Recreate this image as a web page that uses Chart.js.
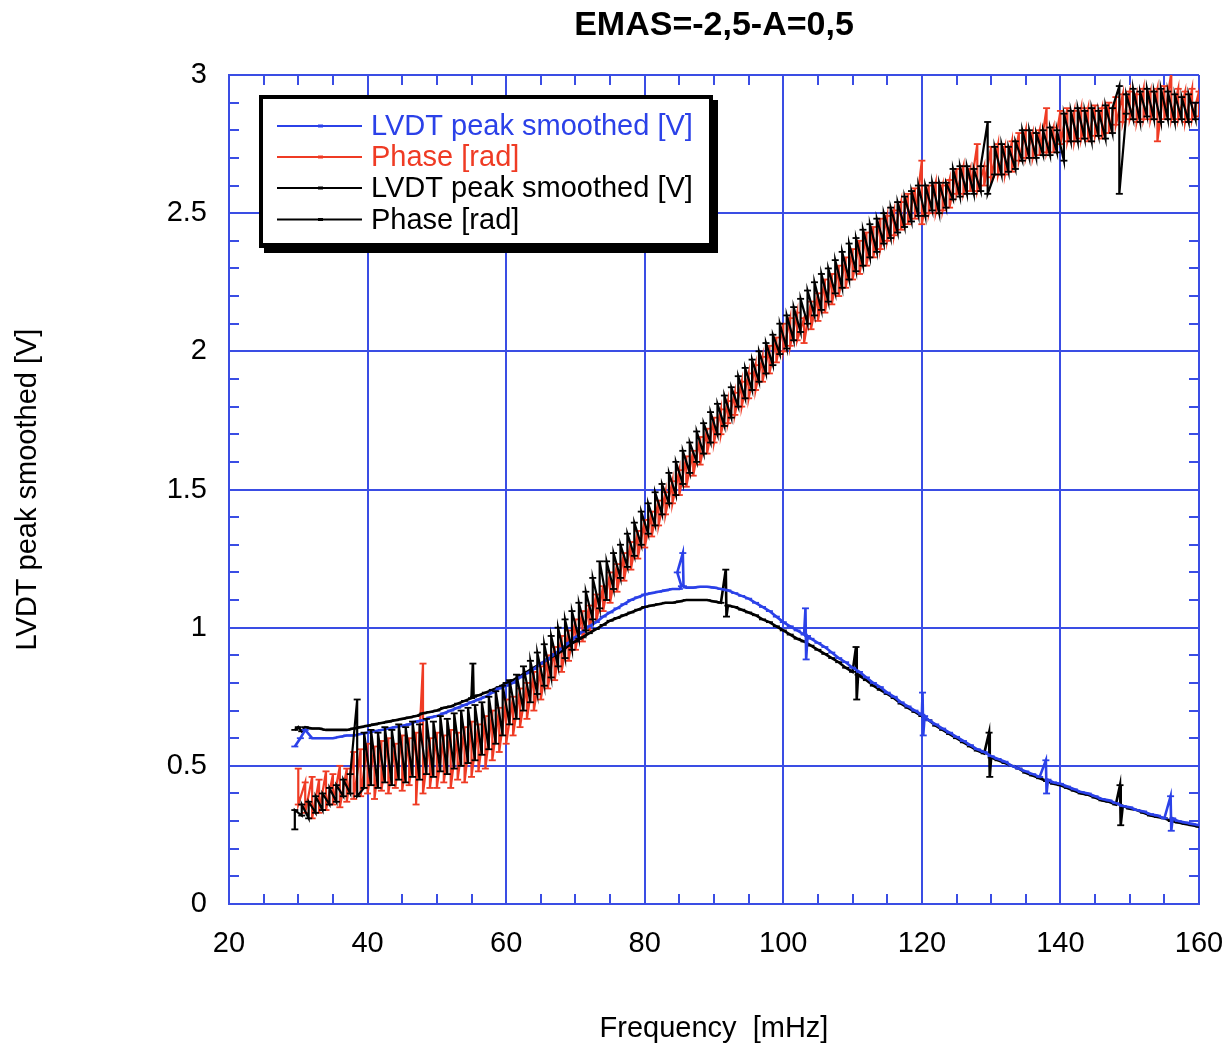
<!DOCTYPE html>
<html><head><meta charset="utf-8">
<script src="https://cdn.jsdelivr.net/npm/chart.js@4.4.1/dist/chart.umd.min.js"></script>
<style>html,body{margin:0;padding:0;background:#fff;}#wrap{width:1231px;height:1045px;}</style>
</head><body><div id="wrap"><canvas id="c" width="1231" height="1045"></canvas></div>
<script>
const chartTitle = 'EMAS=-2,5-A=0,5';
const xTitle = 'Frequency  [mHz]';
const yTitle = 'LVDT peak smoothed [V]';
const legendLabels = ['LVDT peak smoothed [V]', 'Phase [rad]', 'LVDT peak smoothed [V]', 'Phase [rad]'];
const xTickLabels = ['20','40','60','80','100','120','140','160'];
const yTickLabels = ['0','0.5','1','1.5','2','2.5','3'];

const ampBlueX = [29.5,30.3,31,32,33,34,35,36,37,38,
  39,40,41,42,43,44,45,46,47,48,
  49,50,51,52,53,54,55,56,57,58,
  59,60,61,62,63,64,65,66,67,68,
  69,70,71,72,73,74,75,76,77,78,
  79,80,81,82,83,84,85,85.3,84.7,85.5,
  85.6,86,87,88,89,90,91,92,93,94,
  95,96,97,98,99,100,101,102,103,103.2,
  103.3,103.5,104,105,106,107,108,109,110,111,
  112,113,114,115,116,117,118,119,120,120.1,
  120.2,120.4,121,122,123,124,125,126,127,128,
  129,130,131,132,133,134,135,136,137,137.9,
  138,138.2,139,140,141,142,143,144,145,146,
  147,148,149,150,151,152,153,154,155,155.9,
  156,156.2,157,158,159,160];
const ampBlueY = [0.57,0.60,0.63,0.60,0.60,0.60,0.60,0.605,0.61,0.61,
  0.615,0.62,0.625,0.63,0.635,0.64,0.645,0.65,0.66,0.665,
  0.675,0.68,0.69,0.70,0.71,0.72,0.73,0.74,0.75,0.765,
  0.78,0.79,0.80,0.82,0.835,0.85,0.87,0.885,0.905,0.925,
  0.945,0.965,0.985,1.005,1.02,1.04,1.055,1.07,1.085,1.10,
  1.11,1.12,1.125,1.13,1.135,1.14,1.14,1.15,1.20,1.27,
  1.15,1.145,1.145,1.148,1.148,1.145,1.14,1.135,1.125,1.115,
  1.105,1.09,1.075,1.06,1.04,1.02,1.005,0.99,0.975,1.07,
  0.885,0.97,0.96,0.945,0.93,0.91,0.89,0.875,0.855,0.84,
  0.82,0.80,0.785,0.765,0.75,0.73,0.715,0.70,0.685,0.765,
  0.61,0.68,0.665,0.65,0.635,0.62,0.605,0.59,0.575,0.56,
  0.55,0.535,0.525,0.515,0.50,0.49,0.48,0.47,0.46,0.52,
  0.40,0.45,0.44,0.435,0.425,0.415,0.405,0.40,0.39,0.38,
  0.375,0.365,0.355,0.35,0.34,0.335,0.325,0.32,0.31,0.39,
  0.265,0.31,0.30,0.295,0.29,0.285];

const ampBlackX = [29.5,30,30.5,31,32,33,34,35,36,37,
  38,39,40,41,42,43,44,45,46,47,
  48,49,50,51,52,53,54,55,55.2,55.3,
  56,57,58,59,60,61,62,63,64,65,
  66,67,68,69,70,71,72,73,74,75,
  76,77,78,79,80,81,82,83,84,85,
  86,87,88,89,90,91,91.7,91.8,92,93,
  94,95,96,97,98,99,100,101,102,103,
  104,105,106,107,108,109,110,110.5,110.6,110.8,
  111,112,113,114,115,116,117,118,119,120,
  121,122,123,124,125,126,127,128,129,129.7,
  129.8,130,131,132,133,134,135,136,137,138,
  139,140,141,142,143,144,145,146,147,148,
  148.6,148.7,149,150,151,152,153,154,155,156,
  157,158,159,160];
const ampBlackY = [0.63,0.64,0.625,0.64,0.635,0.635,0.63,0.63,0.63,0.63,
  0.635,0.64,0.645,0.65,0.655,0.66,0.665,0.67,0.675,0.68,
  0.69,0.695,0.70,0.71,0.715,0.725,0.735,0.745,0.87,0.75,
  0.755,0.765,0.775,0.785,0.80,0.81,0.825,0.84,0.855,0.87,
  0.885,0.90,0.915,0.935,0.95,0.965,0.98,0.995,1.01,1.025,
  1.035,1.045,1.055,1.065,1.075,1.08,1.085,1.09,1.09,1.095,
  1.10,1.10,1.10,1.10,1.095,1.09,1.21,1.04,1.08,1.075,
  1.065,1.055,1.045,1.03,1.02,1.005,0.99,0.975,0.96,0.95,
  0.935,0.92,0.905,0.89,0.875,0.855,0.84,0.93,0.74,0.83,
  0.825,0.81,0.79,0.775,0.76,0.745,0.725,0.71,0.695,0.68,
  0.665,0.645,0.63,0.615,0.60,0.585,0.57,0.555,0.545,0.62,
  0.46,0.53,0.52,0.51,0.50,0.49,0.475,0.465,0.455,0.445,
  0.435,0.43,0.42,0.41,0.40,0.395,0.385,0.375,0.37,0.36,
  0.43,0.285,0.355,0.345,0.34,0.33,0.32,0.315,0.31,0.30,
  0.295,0.29,0.285,0.28];

// phase: two readings per frequency (first, second)
const phaseRedX = [30,31,32,33,34,35,36,37,38,39,
  40,41,42,43,44,45,46,47,48,49,
  50,51,52,53,54,55,56,57,58,59,
  60,61,62,63,64,65,66,67,68,69,
  70,71,72,73,74,75,76,77,78,79,
  80,81,82,83,84,85,86,87,88,89,
  90,91,92,93,94,95,96,97,98,99,
  100,101,102,103,104,105,106,107,108,109,
  110,111,112,113,114,115,116,117,118,119,
  120,121,122,123,124,125,126,127,128,129,
  130,131,132,133,134,135,136,137,138,139,
  140,141,142,143,144,145,146,147,148,149,
  150,151,152,153,154,155,156,157,158,159,160];
const phaseRedFirst = [0.49,0.44,0.46,0.45,0.48,0.47,0.50,0.49,0.55,0.56,
  0.58,0.57,0.59,0.60,0.58,0.61,0.60,0.62,0.87,0.60,
  0.62,0.61,0.63,0.62,0.64,0.66,0.65,0.68,0.70,0.71,
  0.74,0.75,0.78,0.80,0.84,0.86,0.90,0.93,0.97,0.99,
  1.03,1.06,1.08,1.12,1.15,1.20,1.23,1.27,1.31,1.35,
  1.39,1.42,1.46,1.49,1.53,1.57,1.62,1.64,1.69,1.72,
  1.76,1.79,1.82,1.85,1.89,1.92,1.95,1.98,2.02,2.05,
  2.10,2.12,2.14,2.12,2.18,2.21,2.26,2.28,2.31,2.34,
  2.37,2.40,2.43,2.45,2.48,2.49,2.51,2.54,2.57,2.59,
  2.69,2.60,2.61,2.60,2.62,2.66,2.67,2.66,2.75,2.67,
  2.74,2.75,2.74,2.76,2.79,2.80,2.79,2.80,2.88,2.81,
  2.87,2.88,2.87,2.88,2.88,2.89,2.88,2.90,2.92,2.93,
  2.94,2.93,2.95,2.94,2.95,2.96,3.01,2.95,2.94,2.95,2.94];
const phaseRedSecond = [0.36,0.33,0.31,0.33,0.34,0.36,0.35,0.37,0.38,0.39,
  0.40,0.38,0.41,0.40,0.42,0.41,0.43,0.36,0.40,0.42,
  0.42,0.44,0.42,0.45,0.44,0.46,0.48,0.49,0.52,0.55,
  0.58,0.61,0.64,0.67,0.70,0.74,0.78,0.81,0.84,0.88,
  0.92,0.95,0.99,1.02,1.06,1.09,1.13,1.17,1.21,1.25,
  1.29,1.33,1.37,1.41,1.45,1.48,1.51,1.55,1.59,1.63,
  1.67,1.70,1.74,1.77,1.80,1.83,1.86,1.89,1.92,1.96,
  2.00,2.02,2.04,2.03,2.08,2.11,2.14,2.17,2.20,2.23,
  2.26,2.28,2.31,2.34,2.37,2.40,2.42,2.44,2.46,2.48,
  2.46,2.50,2.50,2.51,2.52,2.57,2.57,2.58,2.58,2.60,
  2.63,2.64,2.64,2.65,2.69,2.70,2.70,2.71,2.72,2.72,
  2.75,2.76,2.76,2.77,2.76,2.78,2.77,2.79,2.82,2.83,
  2.84,2.83,2.84,2.84,2.76,2.84,2.84,2.84,2.83,2.84,2.85];

const phaseBlackX = [29.5,30.5,31.5,32.5,33.5,34.5,35.5,36.5,37.5,38.5,
  39.5,40.5,41.5,42.5,43.5,44.5,45.5,46.5,47.5,48.5,
  49.5,50.5,51.5,52.5,53.5,54.5,55.5,56.5,57.5,58.5,
  59.5,60.5,61.5,62.5,63.5,64.5,65.5,66.5,67.5,68.5,
  69.5,70.5,71.5,72.5,73.5,74.5,75.5,76.5,77.5,78.5,
  79.5,80.5,81.5,82.5,83.5,84.5,85.5,86.5,87.5,88.5,
  89.5,90.5,91.5,92.5,93.5,94.5,95.5,96.5,97.5,98.5,
  99.5,100.5,101.5,102.5,103.5,104.5,105.5,106.5,107.5,108.5,
  109.5,110.5,111.5,112.5,113.5,114.5,115.5,116.5,117.5,118.5,
  119.5,120.5,121.5,122.5,123.5,124.5,125.5,126.5,127.5,128.5,
  129.5,130.5,131.5,132.5,133.5,134.5,135.5,136.5,137.5,138.5,
  139.5,140.5,141.5,142.5,143.5,144.5,145.5,146.5,147.5,148.5,
  149.5,150.5,151.5,152.5,153.5,154.5,155.5,156.5,157.5,158.5,159.5];
const phaseBlackFirst = [0.27,0.32,0.31,0.33,0.34,0.36,0.37,0.39,0.40,0.74,
  0.42,0.43,0.42,0.44,0.43,0.45,0.44,0.46,0.45,0.47,
  0.46,0.48,0.47,0.49,0.50,0.51,0.52,0.54,0.56,0.58,
  0.61,0.65,0.67,0.70,0.73,0.76,0.79,0.82,0.86,0.89,
  0.92,0.96,0.99,1.03,1.07,1.10,1.14,1.18,1.22,1.26,
  1.30,1.34,1.37,1.41,1.45,1.48,1.52,1.56,1.60,1.63,
  1.67,1.70,1.73,1.76,1.80,1.83,1.86,1.89,1.92,1.95,
  1.99,2.01,2.04,2.07,2.10,2.13,2.15,2.18,2.21,2.23,
  2.26,2.29,2.31,2.34,2.36,2.39,2.41,2.43,2.45,2.47,
  2.49,2.49,2.51,2.50,2.52,2.55,2.56,2.57,2.57,2.58,
  2.83,2.64,2.64,2.65,2.66,2.69,2.70,2.70,2.71,2.71,
  2.72,2.69,2.76,2.76,2.77,2.76,2.78,2.77,2.79,2.96,
  2.86,2.84,2.83,2.85,2.84,2.83,2.84,2.83,2.84,2.83,2.84];
const phaseBlackSecond = [0.34,0.36,0.37,0.39,0.40,0.42,0.43,0.45,0.47,0.39,
  0.62,0.63,0.62,0.64,0.63,0.65,0.64,0.66,0.65,0.67,
  0.66,0.68,0.67,0.69,0.70,0.71,0.72,0.73,0.75,0.77,
  0.79,0.81,0.83,0.86,0.88,0.91,0.94,0.97,1.00,1.03,
  1.06,1.09,1.13,1.18,1.24,1.24,1.27,1.30,1.34,1.38,
  1.42,1.45,1.49,1.52,1.56,1.60,1.64,1.67,1.71,1.74,
  1.78,1.81,1.84,1.87,1.91,1.94,1.97,2.00,2.03,2.06,
  2.10,2.13,2.16,2.19,2.22,2.25,2.28,2.30,2.33,2.36,
  2.39,2.41,2.44,2.46,2.48,2.50,2.52,2.54,2.56,2.58,
  2.60,2.60,2.61,2.61,2.61,2.66,2.67,2.67,2.66,2.67,
  2.57,2.74,2.75,2.74,2.76,2.80,2.80,2.79,2.80,2.81,
  2.80,2.86,2.87,2.88,2.87,2.88,2.87,2.89,2.88,2.57,
  2.93,2.95,2.94,2.95,2.94,2.95,2.94,2.93,2.92,2.93,2.90];

const gridBlue = '#3a4de4';
const colBlue = '#2b41e8';
const colRed = '#ef3b24';
const colBlack = '#000000';
const FONT = "'Liberation Sans', Arial, Helvetica, sans-serif";

function pts(xs, ys) { return xs.map((x, i) => ({x: x, y: ys[i]})); }
function pairPts(xs, a, b) {
  const out = [];
  xs.forEach((x, i) => { out.push({x: x, y: a[i]}); out.push({x: x, y: b[i]}); });
  return out;
}
function ds(label, data, color, order, width) {
  return {label: label, data: data, showLine: true, borderColor: color, backgroundColor: color,
    borderWidth: width, pointStyle: 'line', pointRadius: 3.5, pointBorderWidth: 1.8,
    pointBorderColor: color, pointBackgroundColor: color, tension: 0, order: order};
}

const minorTicks = {
  id: 'minorTicks',
  beforeDatasetsDraw(chart) {
    const {ctx, chartArea: a, scales: {x, y}} = chart;
    ctx.save();
    ctx.strokeStyle = gridBlue; ctx.lineWidth = 2;
    ctx.beginPath();
    for (let v = 25; v < 160; v += 5) {
      if (v % 20 === 0) continue;
      const px = Math.round(x.getPixelForValue(v));
      ctx.moveTo(px, a.bottom); ctx.lineTo(px, a.bottom - 10);
      ctx.moveTo(px, a.top); ctx.lineTo(px, a.top + 10);
    }
    for (let k = 1; k < 30; k++) {
      if (k % 5 === 0) continue;
      const py = Math.round(y.getPixelForValue(k / 10));
      ctx.moveTo(a.left, py); ctx.lineTo(a.left + 10, py);
      ctx.moveTo(a.right, py); ctx.lineTo(a.right - 10, py);
    }
    ctx.stroke();
    ctx.restore();
  }
};

const boxLegend = {
  id: 'boxLegend',
  afterDraw(chart) {
    const ctx = chart.ctx;
    ctx.save();
    ctx.fillStyle = '#000';
    ctx.fillRect(264, 100, 454, 153);
    ctx.fillRect(259, 95, 454, 153);
    ctx.fillStyle = '#fff';
    ctx.fillRect(263, 99, 446, 144);
    const cols = [colBlue, colRed, colBlack, colBlack];
    const rows = [126, 157, 188, 219.5];
    ctx.font = '29px ' + FONT;
    ctx.textBaseline = 'middle';
    ctx.textAlign = 'left';
    for (let i = 0; i < 4; i++) {
      ctx.strokeStyle = cols[i]; ctx.lineWidth = 2;
      ctx.beginPath(); ctx.moveTo(277, rows[i]); ctx.lineTo(362, rows[i]); ctx.stroke();
      ctx.fillStyle = cols[i];
      ctx.fillRect(318, rows[i] - 1.5, 5, 3);
      ctx.fillText(legendLabels[i], 371, rows[i] + 1);
    }
    ctx.restore();
  }
};

new Chart(document.getElementById('c'), {
  type: 'scatter',
  data: {datasets: [
    ds(legendLabels[0], pts(ampBlueX, ampBlueY), colBlue, 1, 2.6),
    ds(legendLabels[1], pairPts(phaseRedX, phaseRedFirst, phaseRedSecond), colRed, 3, 2.2),
    ds(legendLabels[2], pts(ampBlackX, ampBlackY), colBlack, 2, 2.6),
    ds(legendLabels[3], pairPts(phaseBlackX, phaseBlackFirst, phaseBlackSecond), colBlack, 0, 2.2)
  ]},
  options: {
    responsive: false, animation: false, devicePixelRatio: 1,
    layout: {padding: {left: 0, right: 32, top: 0, bottom: 0}},
    plugins: {
      legend: {display: false},
      tooltip: {enabled: false},
      title: {display: true, text: chartTitle, fullSize: false, color: '#000',
        font: {family: FONT, size: 34, weight: 'bold', lineHeight: 1.2},
        padding: {top: 5, bottom: 29.2}}
    },
    scales: {
      x: {type: 'linear', min: 20, max: 160,
        afterFit: s => { s.height = 141; s.paddingLeft = 0; s.paddingRight = 0; },
        ticks: {stepSize: 20, color: '#000', padding: 23, font: {family: FONT, size: 29},
          callback: (v, i) => xTickLabels[i]},
        grid: {color: gridBlue, lineWidth: 2, drawTicks: false},
        border: {display: true, color: gridBlue, width: 2},
        title: {display: true, text: xTitle, color: '#000', font: {family: FONT, size: 29, lineHeight: 1},
          padding: {top: 0, bottom: 2}}
      },
      y: {type: 'linear', min: 0, max: 3,
        afterFit: s => { s.width = 229; s.paddingTop = 0; s.paddingBottom = 0; },
        ticks: {stepSize: 0.5, color: '#000', padding: 22, font: {family: FONT, size: 29},
          callback: (v, i) => yTickLabels[i]},
        grid: {color: gridBlue, lineWidth: 2, drawTicks: false},
        border: {display: true, color: gridBlue, width: 2},
        title: {display: true, text: yTitle, color: '#000', font: {family: FONT, size: 29, lineHeight: 1},
          padding: {top: 13, bottom: 0}}
      }
    }
  },
  plugins: [minorTicks, boxLegend]
});
</script></body></html>
